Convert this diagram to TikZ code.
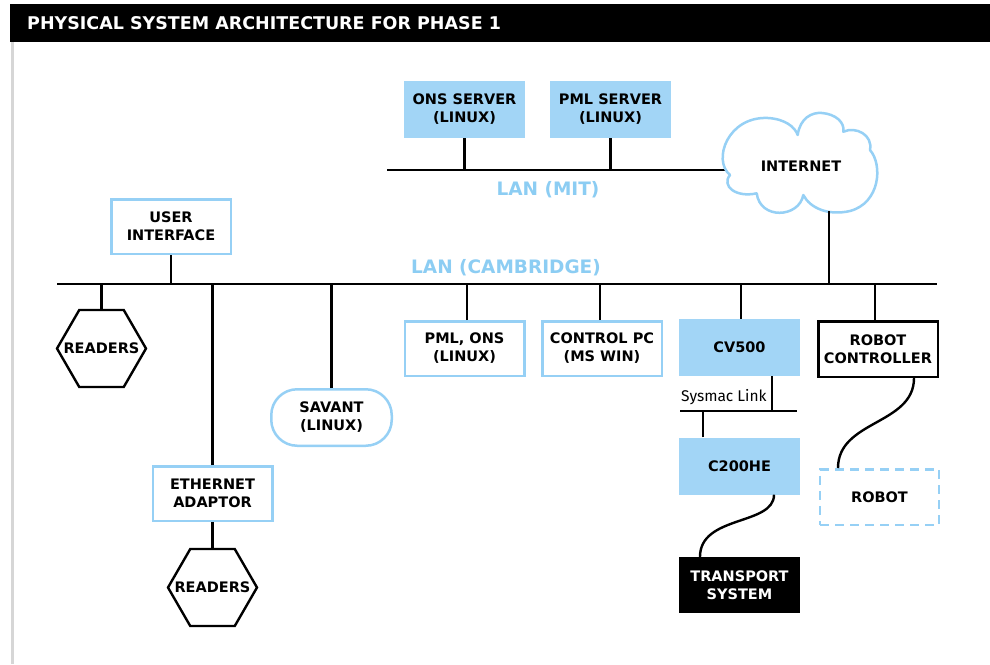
\documentclass[tikz,border=0pt]{standalone}
\usepackage{fontspec}
\setmainfont{DejaVu Sans}
\newfontfamily\humfont{Fira Sans}
\usetikzlibrary{calc}
\definecolor{lblue}{RGB}{162,213,246}
\definecolor{lline}{RGB}{150,208,245}
\definecolor{ltext}{RGB}{140,205,243}
\definecolor{fgrey}{RGB}{214,214,214}
\begin{document}
\begin{tikzpicture}[x=1pt,y=-1pt,
  lbl/.style={font=\fontsize{14.5}{18}\selectfont\bfseries, align=center, inner sep=0pt, text=black},
  bluebox/.style={lbl, fill=lblue, minimum width=121pt, minimum height=57pt},
  wbox/.style={lbl, draw=lline, line width=2.5pt, fill=white, minimum width=119.5pt, minimum height=54.5pt},
  blkbox/.style={lbl, draw=black, line width=2.5pt, fill=white, minimum width=119.5pt, minimum height=55.5pt},
  darkbox/.style={lbl, fill=black, text=white, minimum width=121pt, minimum height=56pt},
  dashbox/.style={lbl, draw=lline, line width=2.5pt, dash pattern=on 9pt off 6pt, fill=white, minimum width=119pt, minimum height=55.5pt},
  savbox/.style={lbl, draw=lline, line width=2.5pt, fill=white, rounded corners=26pt, minimum width=120.5pt, minimum height=56.5pt},
  hexnode/.style={lbl, minimum width=89pt, minimum height=77pt},
  hexline/.style={draw=black, line width=2.4pt, fill=white},
  wire/.style={draw=black, line width=2.4pt},
  lanlbl/.style={font=\fontsize{18.5}{22}\selectfont\bfseries, text=ltext, inner sep=0pt},
  cloudline/.style={draw=lline, line width=2.5pt, fill=white, line join=round}
]
\useasboundingbox (0,0) rectangle (990,664);
\fill[white] (0,0) rectangle (990,664);
% frame
\fill[black] (10,4) rectangle (990,42);
\fill[fgrey] (11,42) rectangle (14,664);
\node[anchor=west, inner sep=0pt, text=white, font=\fontsize{17.5}{20}\selectfont\bfseries] (title) at (27,23) {PHYSICAL SYSTEM ARCHITECTURE FOR PHASE 1};

% LAN coordinates
\coordinate (mitL) at (387,170);
\coordinate (mitR) at (740,170);
\coordinate (camL) at (57,284);
\coordinate (camR) at (937,284);
\draw[wire] (mitL) -- (mitR);
\draw[wire] (camL) -- (camR);

% hexagon outlines (behind their labels)
\coordinate (rd1c) at (101.5,348.5);
\coordinate (rd2c) at (212.5,587.5);
\foreach \c in {rd1c,rd2c}{
  \path[hexline] ($(\c)+(-44.5,0)$) -- ($(\c)+(-22.25,-38.5)$) -- ($(\c)+(22.25,-38.5)$)
    -- ($(\c)+(44.5,0)$) -- ($(\c)+(22.25,38.5)$) -- ($(\c)+(-22.25,38.5)$) -- cycle;
}

% nodes
\node[bluebox] (ons) at (464.5,109.5) {ONS SERVER\\(LINUX)};
\node[bluebox] (pml) at (610.5,109.5) {PML SERVER\\(LINUX)};
\node[wbox] (ui) at (171,226.5) {USER\\INTERFACE};
\node[hexnode] (rd1) at (rd1c) {READERS};
\node[savbox] (sav) at (331.5,417.5) {SAVANT\\(LINUX)};
\node[wbox] (eth) at (212.5,493.5) {ETHERNET\\ADAPTOR};
\node[hexnode] (rd2) at (rd2c) {READERS};
\node[wbox] (pmlons) at (464.5,348.5) {PML, ONS\\(LINUX)};
\node[wbox] (ctrl) at (602,348.5) {CONTROL PC\\(MS WIN)};
\node[bluebox] (cv) at (739.5,347.5) {CV500};
\node[blkbox] (rc) at (878,349) {ROBOT\\CONTROLLER};
\node[bluebox] (c200) at (739.5,466) {C200HE};
\node[darkbox] (tr) at (739.5,585) {TRANSPORT\\SYSTEM};
\node[dashbox] (robot) at (879.5,497) {ROBOT};

% labels
\node[lanlbl] (lanmit) at (548,190) {LAN (MIT)};
\node[lanlbl] (lancam) at (506,268) {LAN (CAMBRIDGE)};

% cloud
\coordinate (cA) at (730,175);
\coordinate (cB) at (797.7,135);
\coordinate (cC) at (843.3,131.7);
\coordinate (cD) at (870,150);
\coordinate (cE) at (803.3,195);
\coordinate (cF) at (756.7,193.3);
\path[cloudline] (cA) .. controls (712,160) and (728,116) .. (768,118)
  .. controls (785,119) and (795,127) .. (cB)
  .. controls (800,118) and (812,112) .. (822,113)
  .. controls (835,114) and (845,122) .. (cC)
  .. controls (856,126) and (873,135) .. (cD)
  .. controls (883,165) and (880,203) .. (850,211)
  .. controls (828,216) and (810,208) .. (cE)
  .. controls (799,218) and (760,220) .. (cF)
  .. controls (736,198) and (721,186) .. (cA) -- cycle;
\node[lbl] (inet) at (801,166) {INTERNET};
\coordinate (inetbot) at (829,211);

% taps
\draw[wire] (ons.south) -- (ons.south |- mitL);
\draw[wire] (pml.south) -- (pml.south |- mitL);
\draw[wire] (inetbot) -- (inetbot |- camL);
\draw[wire] (ui.south) -- (ui.south |- camL);
\draw[wire] (rd1.north) -- (rd1.north |- camL);
\draw[wire] (eth.north) -- (eth.north |- camL);
\draw[wire] (eth.south) -- (rd2.north);
\draw[wire] (sav.north) -- (sav.north |- camL);
\draw[wire] ([xshift=2.5pt]pmlons.north) -- ([xshift=2.5pt]pmlons.north |- camL);
\draw[wire] ([xshift=-2pt]ctrl.north) -- ([xshift=-2pt]ctrl.north |- camL);
\draw[wire] ([xshift=1.5pt]cv.north) -- ([xshift=1.5pt]cv.north |- camL);
\draw[wire] ([xshift=-3pt]rc.north) -- ([xshift=-3pt]rc.north |- camL);

% sysmac link
\coordinate (sysL) at (680,411);
\coordinate (sysR) at (797,411);
\draw[wire] (sysL) -- (sysR);
\draw[wire] ([xshift=32.5pt]cv.south) -- ([xshift=32.5pt]cv.south |- sysL);
\draw[wire] ([xshift=-36.5pt]c200.north) -- ([xshift=-36.5pt]c200.north |- sysL);
\node[anchor=west, inner sep=0pt, font=\humfont\fontsize{15.5}{18}\selectfont] (syslbl) at (681,397) {Sysmac Link};

% curves
\draw[wire] ([xshift=34.5pt]c200.south) .. controls +(0,31) and +(0,-42) .. ([xshift=-39.5pt]tr.north);
\draw[wire] ([xshift=36pt]rc.south) .. controls +(0,47) and +(0,-48) .. ([xshift=-41.5pt]robot.north);
\end{tikzpicture}
\end{document}
